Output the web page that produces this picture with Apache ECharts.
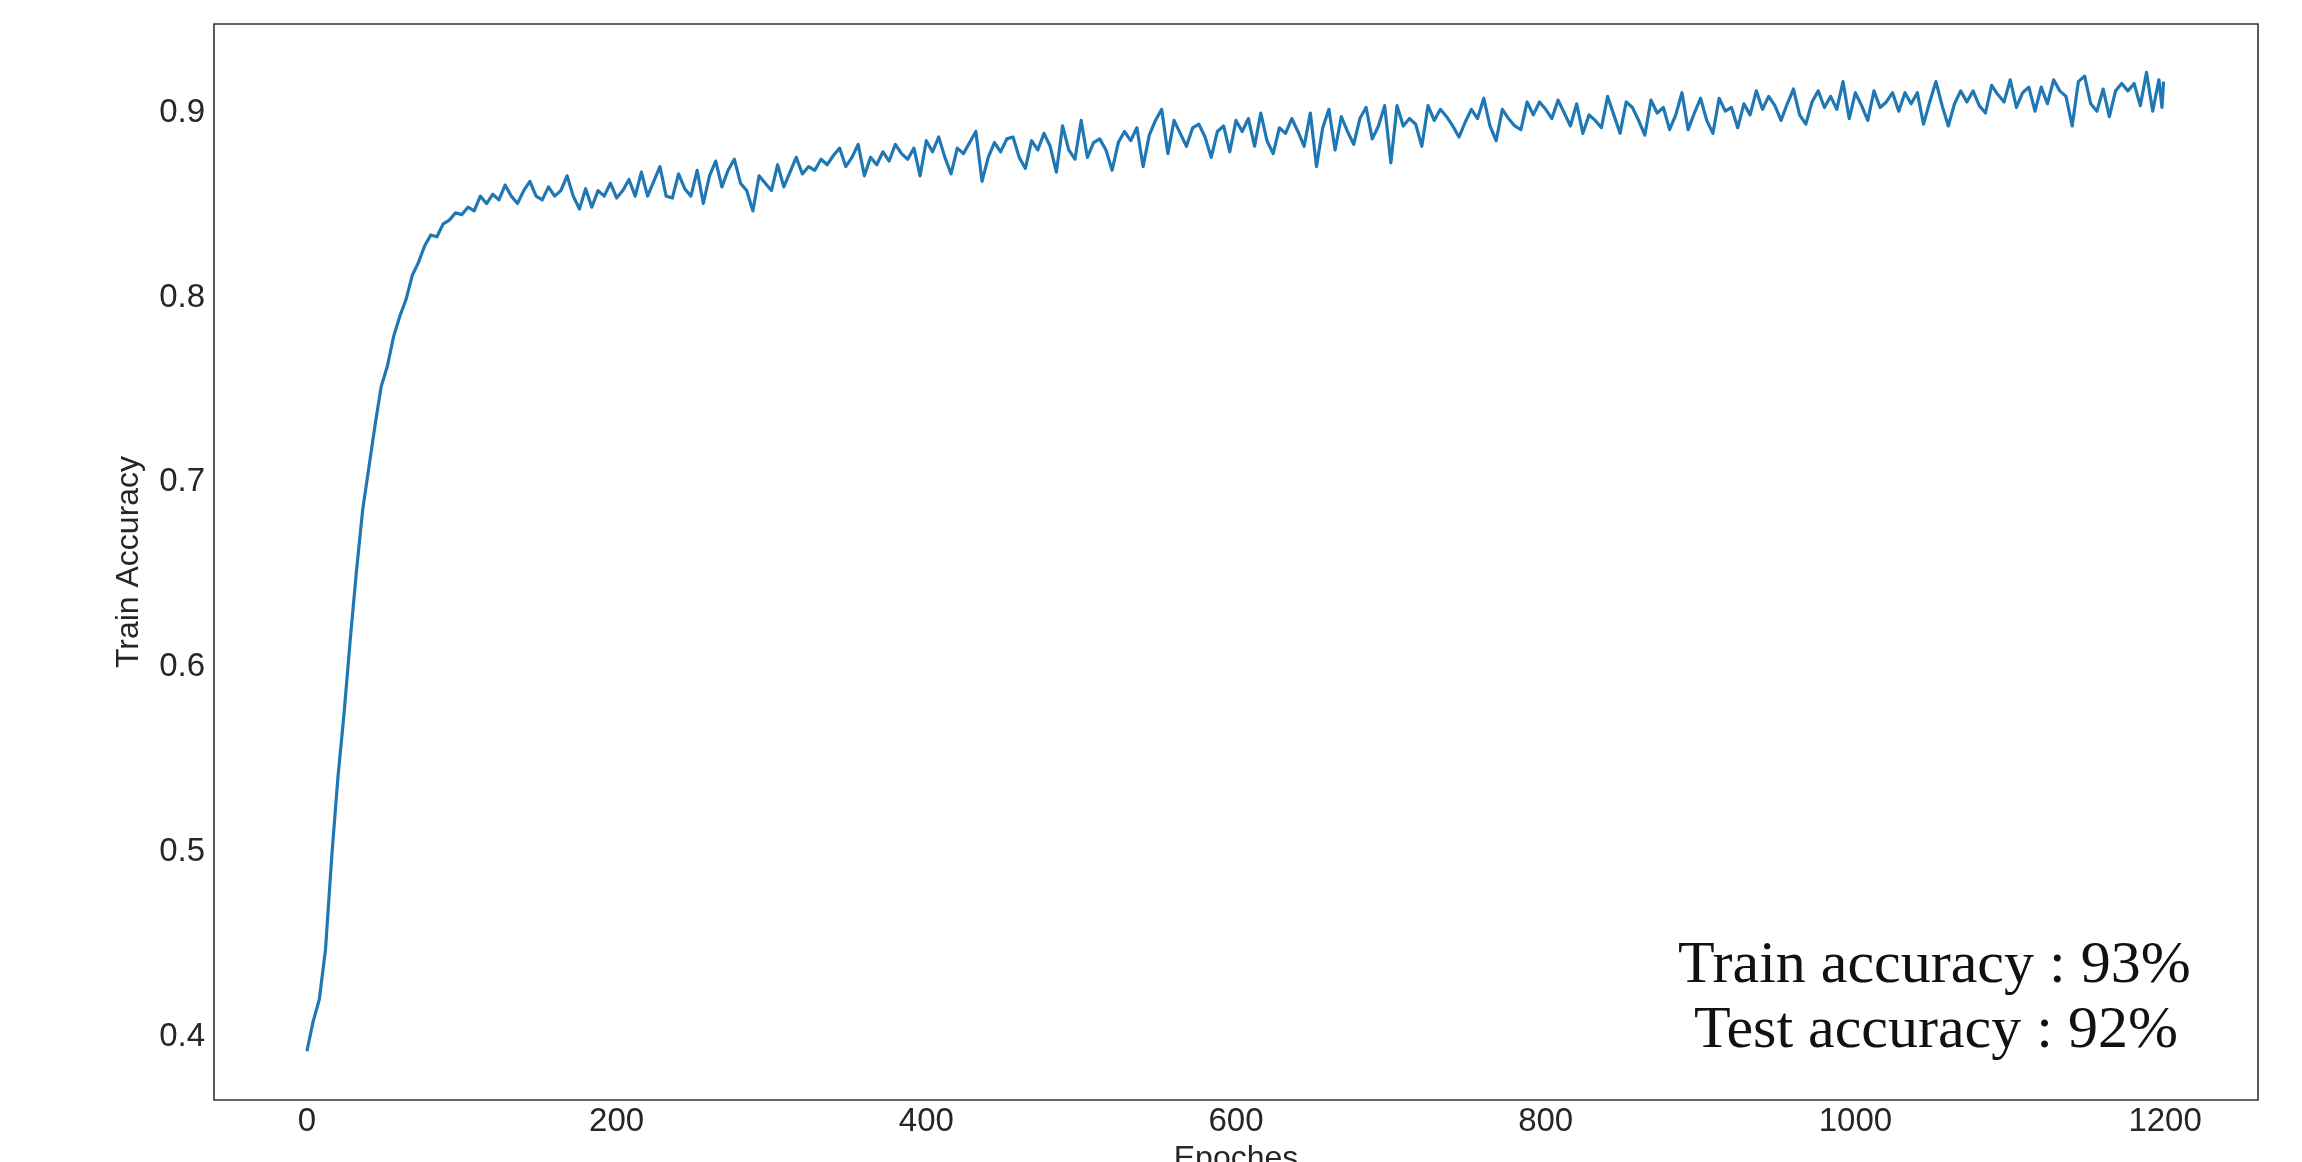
<!DOCTYPE html>
<html>
<head>
<meta charset="utf-8">
<script src="https://cdn.jsdelivr.net/npm/echarts@6/dist/echarts.min.js"></script>
<style>
html,body{margin:0;padding:0;background:#fff;overflow:hidden;}
#chart{width:2302px;height:1162px;}
</style>
</head>
<body>
<div id="chart"></div>
<script>
const epochs = [
0,4,8,12,16,20,24,28,32,36,
40,44,48,52,56,60,64,68,72,76,
80,84,88,92,96,100,104,108,112,116,
120,124,128,132,136,140,144,148,152,156,
160,164,168,172,176,180,184,188,192,196,
200,204,208,212,216,220,224,228,232,236,
240,244,248,252,256,260,264,268,272,276,
280,284,288,292,296,300,304,308,312,316,
320,324,328,332,336,340,344,348,352,356,
360,364,368,372,376,380,384,388,392,396,
400,404,408,412,416,420,424,428,432,436,
440,444,448,452,456,460,464,468,472,476,
480,484,488,492,496,500,504,508,512,516,
520,524,528,532,536,540,544,548,552,556,
560,564,568,572,576,580,584,588,592,596,
600,604,608,612,616,620,624,628,632,636,
640,644,648,652,656,660,664,668,672,676,
680,684,688,692,696,700,704,708,712,716,
720,724,728,732,736,740,744,748,752,756,
760,764,768,772,776,780,784,788,792,796,
800,804,808,812,816,820,824,828,832,836,
840,844,848,852,856,860,864,868,872,876,
880,884,888,892,896,900,904,908,912,916,
920,924,928,932,936,940,944,948,952,956,
960,964,968,972,976,980,984,988,992,996,
1000,1004,1008,1012,1016,1020,1024,1028,1032,1036,
1040,1044,1048,1052,1056,1060,1064,1068,1072,1076,
1080,1084,1088,1092,1096,1100,1104,1108,1112,1116,
1120,1124,1128,1132,1136,1140,1144,1148,1152,1156,
1160,1164,1168,1172,1176,1180,1184,1188,1192,1196,
1198,1199
];
const trainAccuracy = [
0.392,0.408,0.420,0.447,0.497,0.540,0.575,0.615,0.652,0.685,
0.708,0.731,0.752,0.763,0.779,0.790,0.799,0.812,0.819,0.828,
0.834,0.833,0.840,0.842,0.846,0.845,0.849,0.847,0.855,0.851,
0.856,0.853,0.861,0.855,0.851,0.858,0.863,0.855,0.853,0.860,
0.855,0.858,0.866,0.855,0.848,0.859,0.849,0.858,0.855,0.862,
0.854,0.858,0.864,0.855,0.868,0.855,0.863,0.871,0.855,0.854,
0.867,0.859,0.855,0.869,0.851,0.866,0.874,0.860,0.869,0.875,
0.862,0.858,0.847,0.866,0.862,0.858,0.872,0.860,0.868,0.876,
0.867,0.871,0.869,0.875,0.872,0.877,0.881,0.871,0.876,0.883,
0.866,0.876,0.872,0.879,0.874,0.883,0.878,0.875,0.881,0.866,
0.885,0.879,0.887,0.876,0.867,0.881,0.878,0.884,0.890,0.863,
0.876,0.884,0.879,0.886,0.887,0.876,0.870,0.885,0.880,0.889,
0.882,0.868,0.893,0.880,0.875,0.896,0.876,0.884,0.886,0.880,
0.869,0.884,0.890,0.885,0.892,0.871,0.888,0.896,0.902,0.878,
0.896,0.889,0.882,0.892,0.894,0.887,0.876,0.890,0.893,0.879,
0.896,0.890,0.897,0.882,0.900,0.885,0.878,0.892,0.889,0.897,
0.890,0.882,0.900,0.871,0.892,0.902,0.880,0.898,0.890,0.883,
0.897,0.903,0.886,0.893,0.904,0.873,0.904,0.893,0.897,0.894,
0.882,0.904,0.896,0.902,0.898,0.893,0.887,0.895,0.902,0.897,
0.908,0.893,0.885,0.902,0.897,0.893,0.891,0.906,0.899,0.906,
0.902,0.897,0.907,0.900,0.893,0.905,0.889,0.899,0.896,0.892,
0.909,0.899,0.889,0.906,0.903,0.896,0.888,0.907,0.900,0.903,
0.891,0.899,0.911,0.891,0.900,0.908,0.896,0.889,0.908,0.901,
0.903,0.892,0.905,0.899,0.912,0.902,0.909,0.904,0.896,0.905,
0.913,0.899,0.894,0.906,0.912,0.903,0.909,0.902,0.917,0.897,
0.911,0.904,0.896,0.912,0.903,0.906,0.911,0.901,0.911,0.905,
0.911,0.894,0.906,0.917,0.904,0.893,0.905,0.912,0.906,0.912,
0.904,0.900,0.915,0.910,0.906,0.918,0.903,0.911,0.914,0.901,
0.914,0.905,0.918,0.912,0.909,0.893,0.917,0.920,0.905,0.901,
0.913,0.898,0.912,0.916,0.912,0.916,0.904,0.922,0.901,0.918,
0.903,0.917
];
const xTickValues = [0, 200, 400, 600, 800, 1000, 1200];
const yTickValues = [0.4, 0.5, 0.6, 0.7, 0.8, 0.9];
const annotationLines = ['Train accuracy : 93%', 'Test accuracy : 92%'];
const xAxisTitle = 'Epoches';
const yAxisTitle = 'Train Accuracy';

const seriesData = epochs.map((e, i) => [e, trainAccuracy[i]]);
const chart = echarts.init(document.getElementById('chart'), null, {renderer: 'canvas'});
const textColor = '#262626';
const sansFont = 'Liberation Sans, Arial, sans-serif';
chart.setOption({
  animation: false,
  backgroundColor: '#ffffff',
  grid: {
    left: 214, right: 44, top: 24, bottom: 62,
    outerBoundsMode: 'none', containLabel: false,
    show: true, borderColor: '#333333', borderWidth: 1.6, backgroundColor: 'transparent'
  },
  xAxis: {
    type: 'value', min: -60, max: 1260,
    axisLine: {show: false}, axisTick: {show: false}, splitLine: {show: false},
    axisLabel: {customValues: xTickValues, color: textColor, fontSize: 33, fontFamily: sansFont, margin: 5,
      formatter: v => String(v)},
    name: xAxisTitle, nameLocation: 'middle', nameGap: 40,
    nameTextStyle: {color: textColor, fontSize: 32, fontFamily: sansFont}
  },
  yAxis: {
    type: 'value', min: 0.3656, max: 0.9482,
    axisLine: {show: false}, axisTick: {show: false}, splitLine: {show: false},
    axisLabel: {customValues: yTickValues, color: textColor, fontSize: 33, fontFamily: sansFont, margin: 9,
      padding: [6, 0, 0, 0], formatter: v => v.toFixed(1)},
    name: yAxisTitle, nameLocation: 'middle', nameRotate: 90, nameGap: 69,
    nameTextStyle: {color: textColor, fontSize: 32, fontFamily: sansFont}
  },
  series: [{
    type: 'line', data: seriesData, showSymbol: false, symbol: 'none',
    lineStyle: {color: '#1f77b4', width: 3.2, join: 'round'}, itemStyle: {color: '#1f77b4'}
  }],
  graphic: [
    {type: 'text', left: 1938 - 260, top: 966 - 30, z: 10,
     style: {text: annotationLines[0], fill: '#111', font: '60px "Liberation Serif", "Times New Roman", serif', textAlign: 'left'}},
    {type: 'text', left: 1938 - 244, top: 1031 - 30, z: 10,
     style: {text: annotationLines[1], fill: '#111', font: '60px "Liberation Serif", "Times New Roman", serif', textAlign: 'left'}}
  ]
});
</script>
</body>
</html>
